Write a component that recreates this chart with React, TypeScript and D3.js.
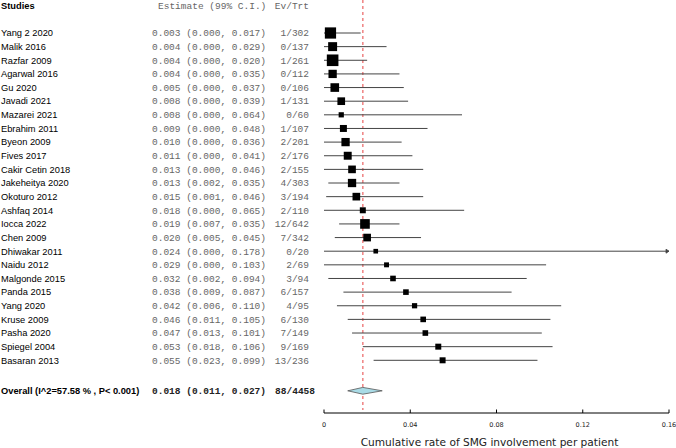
import React from "react";
import * as d3 from "d3";

const studies = [
  "Yang 2 2020", "Malik 2016", "Razfar 2009", "Agarwal 2016", "Gu 2020", "Javadi 2021",
  "Mazarei 2021", "Ebrahim 2011", "Byeon 2009", "Fives 2017", "Cakir Cetin 2018",
  "Jakeheitya 2020", "Okoturo 2012", "Ashfaq 2014", "Iocca 2022", "Chen 2009",
  "Dhiwakar 2011", "Naidu 2012", "Malgonde 2015", "Panda 2015", "Yang 2020",
  "Kruse 2009", "Pasha 2020", "Spiegel 2004", "Basaran 2013",
];
const estimates = [0.003, 0.004, 0.004, 0.004, 0.005, 0.008, 0.008, 0.009, 0.010, 0.011, 0.013, 0.013, 0.015, 0.018, 0.019, 0.020, 0.024, 0.029, 0.032, 0.038, 0.042, 0.046, 0.047, 0.053, 0.055];
const lowers = [0.000, 0.000, 0.000, 0.000, 0.000, 0.000, 0.000, 0.000, 0.000, 0.000, 0.000, 0.002, 0.001, 0.000, 0.007, 0.005, 0.000, 0.000, 0.002, 0.009, 0.006, 0.011, 0.013, 0.018, 0.023];
const uppers = [0.017, 0.029, 0.020, 0.035, 0.037, 0.039, 0.064, 0.048, 0.036, 0.041, 0.046, 0.035, 0.046, 0.065, 0.035, 0.045, 0.178, 0.103, 0.094, 0.087, 0.110, 0.105, 0.101, 0.106, 0.099];
const events = ["1/302", "0/137", "1/261", "0/112", "0/106", "1/131", "0/60", "1/107", "2/201", "2/176", "2/155", "4/303", "3/194", "2/110", "12/642", "7/342", "0/20", "2/69", "3/94", "6/157", "4/95", "6/130", "7/149", "9/169", "13/236"];
const weights = [8.8, 5.6, 9.4, 4.8, 5.2, 4.1, 1.9, 3.4, 4.8, 4.4, 4.1, 4.8, 4.1, 2.5, 6.5, 4.1, 1.5, 1.7, 2.2, 2.2, 1.9, 2.2, 2.2, 2.5, 2.5];

const overallLabel = "Overall (I^2=57.58 % , P< 0.001)";
const overallEst = 0.018;
const overallLo = 0.011;
const overallHi = 0.027;
const overallEvents = "88/4458";

const ticks = [0, 0.04, 0.08, 0.12, 0.16];
const axisTitle = "Cumulative rate of SMG involvement per patient";

const fmt = d3.format(".3f");
const tickFmt = (v: number) => (v === 0 ? "0" : String(v));

export default function App() {
  const W = 676, H = 448;
  const x = d3.scaleLinear().domain([0, 0.16]).range([324, 669]);
  const y = d3.scaleLinear().domain([0, studies.length - 1]).range([33, 360.3]);
  const size = d3.scaleSqrt().domain([0, d3.max(weights) as number]).range([0, 11.6]);
  const yOverall = 390.8;
  const yAxis = 413;
  const mono = "'Liberation Mono', 'DejaVu Sans Mono', monospace";
  const sans = "'Liberation Sans', Arial, sans-serif";
  const dv = "'DejaVu Sans', Verdana, sans-serif";
  const maxX = 0.16;

  return (
    <svg width={W} height={H} style={{ position: "absolute", left: 0, top: 0, background: "#fff" }}>
      {/* header */}
      <text x={1} y={8.5} fontFamily={sans} fontWeight="bold" fontSize={9.3} fill="#000">Studies</text>
      <text x={158} y={8.5} fontFamily={mono} fontSize={9.5} fill="#666">Estimate (99% C.I.)</text>
      <text x={309} y={8.5} fontFamily={mono} fontSize={9.5} fill="#666" textAnchor="end">Ev/Trt</text>

      {/* reference line */}
      <line x1={x(overallEst)} x2={x(overallEst)} y1={0} y2={410} stroke="#f08a8a" strokeWidth={1.6} strokeDasharray="3,3" />

      {studies.map((s, i) => {
        const cy = y(i);
        const hi = Math.min(uppers[i], maxX);
        const side = size(weights[i]);
        return (
          <g key={s}>
            <text x={1} y={cy + 3.3} fontFamily={sans} fontSize={9.3} fill="#000">{s}</text>
            <text x={152} y={cy + 3.3} fontFamily={mono} fontSize={9.5} fill="#666" xmlSpace="preserve">
              {`${fmt(estimates[i])} (${fmt(lowers[i])}, ${fmt(uppers[i])})`}
            </text>
            <text x={309} y={cy + 3.3} fontFamily={mono} fontSize={9.5} fill="#666" textAnchor="end">{events[i]}</text>
            <line x1={x(lowers[i])} x2={x(hi)} y1={cy} y2={cy} stroke="#444" strokeWidth={1} />
            {uppers[i] > maxX && (
              <path d={`M${x(maxX) - 3},${cy - 2}L${x(maxX)},${cy}L${x(maxX) - 3},${cy + 2}Z`} fill="#444" stroke="#444" strokeWidth={0.8} />
            )}
            <rect x={x(estimates[i]) - side / 2} y={cy - side / 2} width={side} height={side} fill="#000" />
          </g>
        );
      })}

      {/* overall */}
      <text x={1} y={yOverall + 3.3} fontFamily={sans} fontWeight="bold" fontSize={9.3} fill="#000">{overallLabel}</text>
      <text x={152} y={yOverall + 3.3} fontFamily={mono} fontSize={9.5} fill="#222" fontWeight="bold" xmlSpace="preserve">
        {`${fmt(overallEst)} (${fmt(overallLo)}, ${fmt(overallHi)})`}
      </text>
      <text x={315} y={yOverall + 3.3} fontFamily={mono} fontSize={9.5} fill="#222" fontWeight="bold" textAnchor="end">{overallEvents}</text>
      <path
        d={`M${x(overallLo)},${yOverall}L${x(overallEst)},${yOverall - 3.4}L${x(overallHi)},${yOverall}L${x(overallEst)},${yOverall + 3.4}Z`}
        fill="#a9dbe6" stroke="#555" strokeWidth={0.8}
      />

      {/* axis */}
      <line x1={x(0)} x2={x(0.16)} y1={yAxis} y2={yAxis} stroke="#000" strokeWidth={1} />
      {ticks.map((t) => (
        <g key={t}>
          <line x1={x(t)} x2={x(t)} y1={yAxis} y2={yAxis - 3.5} stroke="#000" strokeWidth={1} />
          <text x={x(t)} y={yAxis + 13.5} fontFamily={dv} fontSize={6.5} fill="#222" textAnchor="middle">{tickFmt(t)}</text>
        </g>
      ))}
      <text x={489.5} y={445.5} fontFamily={dv} fontSize={10.6} fill="#222" textAnchor="middle">{axisTitle}</text>
    </svg>
  );
}
